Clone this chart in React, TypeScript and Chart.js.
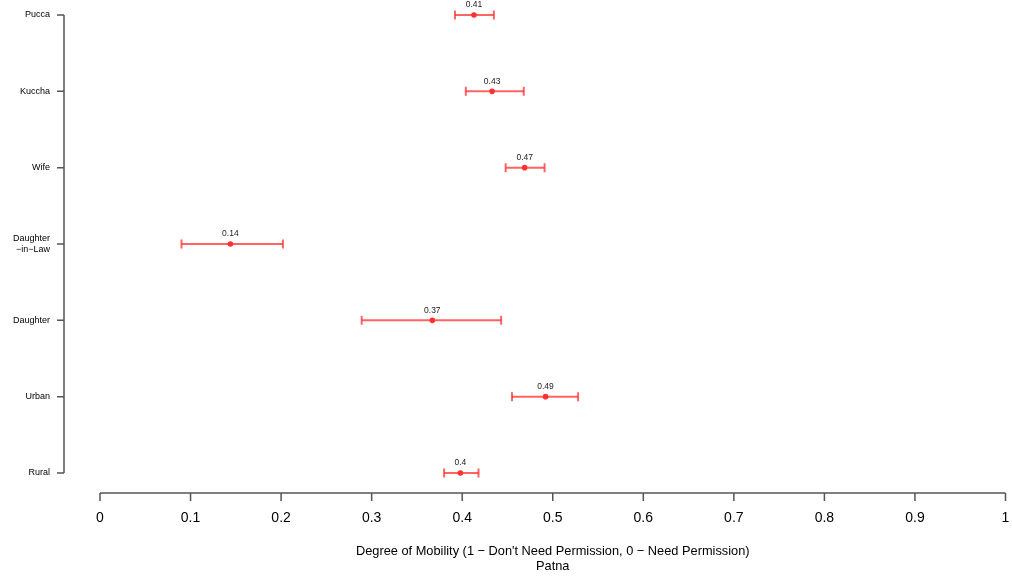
import React, { useEffect, useRef } from "react";
import { Chart, registerables } from "chart.js";

Chart.register(...registerables);

const categories: (string | string[])[] = [
  "Pucca",
  "Kuccha",
  "Wife",
  ["Daughter", "\u2212in\u2212Law"],
  "Daughter",
  "Urban",
  "Rural",
];
const categoryKeys = ["Pucca", "Kuccha", "Wife", "Daughter-in-Law", "Daughter", "Urban", "Rural"];
const means = [0.413, 0.433, 0.469, 0.144, 0.367, 0.492, 0.398];
const lower = [0.392, 0.404, 0.448, 0.09, 0.289, 0.455, 0.38];
const upper = [0.435, 0.468, 0.491, 0.202, 0.443, 0.528, 0.418];
const xTitle = [
  "Degree of Mobility (1 \u2212 Don't Need Permission, 0 \u2212 Need Permission)",
  "Patna",
];

const FONT = "'Liberation Sans', Arial, Helvetica, sans-serif";
const BAR_COLOR = "rgba(255, 40, 40, 0.72)";
const DOT_COLOR = "#ff3030";
const AXIS_COLOR = "#555";

const fmt = (v: number) => String(Math.round(v * 100) / 100);

const axesPlugin = {
  id: "rAxes",
  afterDraw(chart: any) {
    const { ctx, chartArea, scales } = chart;
    const xs = scales.x;
    const ys = scales.y;
    ctx.save();
    ctx.strokeStyle = AXIS_COLOR;
    ctx.lineWidth = 1.5;
    // y axis
    const ax = chartArea.left - 36;
    const yTop = ys.getPixelForValue(0);
    const yBot = ys.getPixelForValue(categoryKeys.length - 1);
    ctx.beginPath();
    ctx.moveTo(ax, yTop);
    ctx.lineTo(ax, yBot);
    categoryKeys.forEach((_, i) => {
      const py = ys.getPixelForValue(i);
      ctx.moveTo(ax - 7, py);
      ctx.lineTo(ax, py);
    });
    ctx.stroke();
    // x axis
    const ay = chartArea.bottom + 20;
    ctx.beginPath();
    ctx.moveTo(xs.getPixelForValue(0), ay);
    ctx.lineTo(xs.getPixelForValue(1), ay);
    xs.ticks.forEach((t: any) => {
      const px = xs.getPixelForValue(t.value);
      ctx.moveTo(px, ay);
      ctx.lineTo(px, ay + 8);
    });
    ctx.stroke();
    // value labels
    ctx.fillStyle = "#222";
    ctx.font = `8.5px ${FONT}`;
    ctx.textAlign = "center";
    ctx.textBaseline = "middle";
    means.forEach((m, i) => {
      ctx.fillText(fmt(m), xs.getPixelForValue(m), ys.getPixelForValue(i) - 10);
    });
    ctx.restore();
  },
};

export default function App() {
  const ref = useRef<HTMLCanvasElement | null>(null);
  useEffect(() => {
    document.body.style.margin = "0";
    if (!ref.current) return;
    const barSets = categoryKeys.map((k, i) => ({
      type: "line" as const,
      data: [
        { x: lower[i], y: k },
        { x: upper[i], y: k },
      ],
      showLine: true,
      borderColor: BAR_COLOR,
      borderWidth: 2,
      pointStyle: "line" as const,
      pointRotation: 90,
      pointRadius: 4.5,
      pointBorderWidth: 2,
      pointBorderColor: BAR_COLOR,
      pointBackgroundColor: BAR_COLOR,
    }));
    const zeroPad = (s: any) => {
      s.paddingTop = 0;
      s.paddingBottom = 0;
      s.paddingLeft = 0;
      s.paddingRight = 0;
    };
    const chart = new Chart(ref.current, {
      type: "scatter",
      data: {
        datasets: [
          {
            data: categoryKeys.map((k, i) => ({ x: means[i], y: k })),
            pointRadius: 2.8,
            pointBackgroundColor: DOT_COLOR,
            pointBorderColor: DOT_COLOR,
            pointBorderWidth: 0,
          },
          ...barSets,
        ] as any,
      },
      options: {
        animation: false,
        responsive: false,
        devicePixelRatio: 1,
        layout: { padding: { top: 15, right: 6, left: 0, bottom: 0 } },
        plugins: { legend: { display: false }, tooltip: { enabled: false } },
        scales: {
          x: {
            type: "linear",
            min: 0,
            max: 1,
            position: "bottom",
            grid: { display: false, drawTicks: false },
            border: { display: false },
            ticks: {
              stepSize: 0.1,
              padding: 37,
              color: "#000",
              font: { family: FONT, size: 14 },
              maxRotation: 0,
              callback: (v: any) => fmt(Number(v)),
            },
            title: {
              display: true,
              text: xTitle,
              color: "#000",
              font: { family: FONT, size: 12.8, lineHeight: 15 / 12.8 },
              padding: { top: 0, bottom: 4 },
            },
            afterFit: (s: any) => {
              s.height = 105;
              zeroPad(s);
            },
          },
          y: {
            type: "category",
            labels: categoryKeys,
            offset: false,
            position: "left",
            grid: { display: false, drawTicks: false },
            border: { display: false },
            ticks: {
              padding: 50,
              color: "#000",
              font: { family: FONT, size: 9 },
              autoSkip: false,
              callback: (_v: any, i: number) => categories[i],
            },
            afterFit: (s: any) => {
              s.width = 100;
              zeroPad(s);
            },
          },
        },
      } as any,
      plugins: [axesPlugin],
    });
    return () => chart.destroy();
  }, []);
  return (
    <div style={{ position: "absolute", left: 0, top: 0, width: 1012, height: 578 }}>
      <canvas ref={ref} width={1012} height={578} />
    </div>
  );
}
